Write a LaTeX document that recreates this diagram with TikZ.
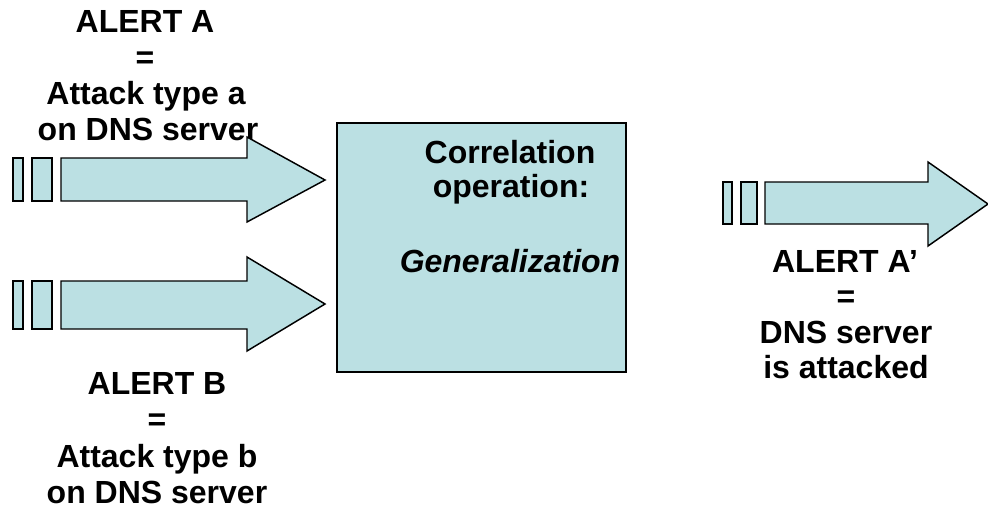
\documentclass[tikz,border=0pt]{standalone}
\usepackage{fontspec}
\setmainfont{Liberation Sans}
\definecolor{flowfill}{RGB}{187,224,227}
\tikzset{
  flow/.style={draw=black, fill=flowfill, line width=1.1pt, line join=miter},
  opbox/.style={draw=black, fill=flowfill, line width=1pt, inner sep=0pt},
  txt/.style={font=\fontsize{24pt}{28pt}\selectfont\bfseries, inner sep=0pt, anchor=base},
  itxt/.style={font=\fontsize{24pt}{28pt}\selectfont\bfseries\itshape, inner sep=0pt, anchor=base}
}
\begin{document}
\begin{tikzpicture}[x=0.75pt, y=-0.75pt]
\useasboundingbox (0,0) rectangle (988,508);

% alert A label (lies beneath the arrow head)
\node[txt] (a1) at (145,32) {ALERT A};
\node[txt] (a2) at (145,68) {=};
\node[txt] (a3) at (146,104) {Attack type a};
\node[txt] (a4) at (148,140) {on DNS server};

% input arrow for alert A
\draw[flow] (13,158) rectangle (23,201);
\draw[flow] (32,158) rectangle (52,201);
\draw[flow] (61,158) -- (247,158) -- (247,137) -- (325,180) -- (247,222) -- (247,201) -- (61,201) -- cycle;

% input arrow for alert B
\draw[flow] (13,281) rectangle (23,329);
\draw[flow] (32,281) rectangle (52,329);
\draw[flow] (61,281) -- (247,281) -- (247,257) -- (325,304) -- (247,351) -- (247,329) -- (61,329) -- cycle;

% output arrow
\draw[flow] (723,182) rectangle (732,224);
\draw[flow] (741,182) rectangle (757,224);
\draw[flow] (765,182) -- (928,182) -- (928,162) -- (988,204) -- (928,246) -- (928,224) -- (765,224) -- cycle;

% correlation box
\node[opbox, minimum width=289*0.75pt, minimum height=249*0.75pt] (op) at (481.5,247.5) {};
\node[txt] (op1) at (510,163) {Correlation};
\node[txt] (op2) at (511,197) {operation:};
\node[itxt] (op3) at (510,272) {Generalization};

% alert B
\node[txt] (b1) at (157,394) {ALERT B};
\node[txt] (b2) at (157,430) {=};
\node[txt] (b3) at (157,467) {Attack type b};
\node[txt] (b4) at (157,503) {on DNS server};

% resulting alert
\node[txt] (c1) at (845,272) {ALERT A’};
\node[txt] (c2) at (846,307) {=};
\node[txt] (c3) at (846,343) {DNS server};
\node[txt] (c4) at (846,378) {is attacked};
\end{tikzpicture}
\end{document}
